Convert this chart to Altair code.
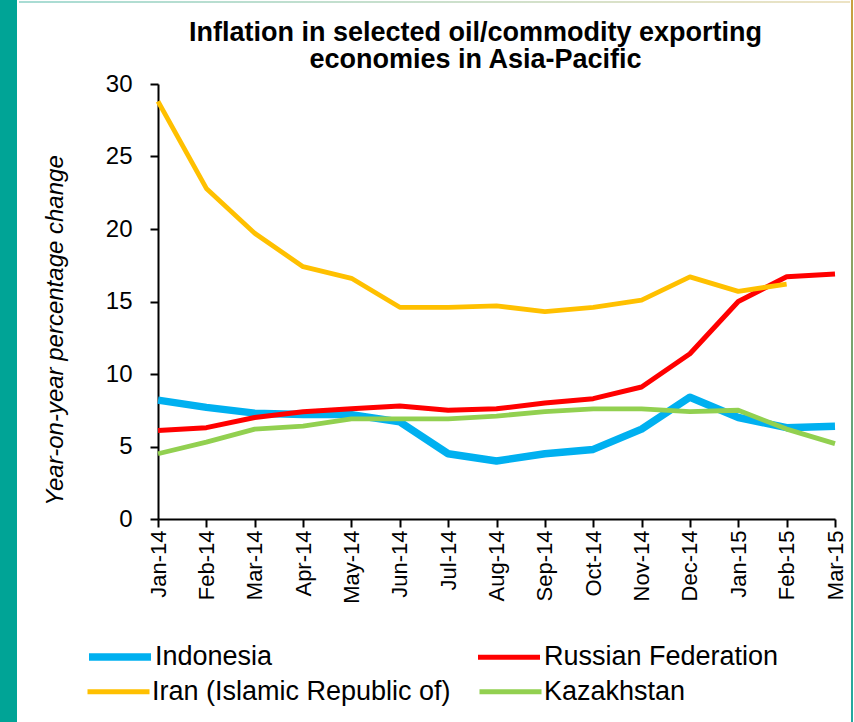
import altair as alt
import pandas as pd

months = ["Jan-14", "Feb-14", "Mar-14", "Apr-14", "May-14", "Jun-14", "Jul-14",
          "Aug-14", "Sep-14", "Oct-14", "Nov-14", "Dec-14", "Jan-15", "Feb-15", "Mar-15"]
indonesia = [8.2, 7.7, 7.3, 7.2, 7.2, 6.7, 4.5, 4.0, 4.5, 4.8, 6.2, 8.4, 7.0, 6.3, 6.4]
russia = [6.1, 6.3, 7.0, 7.4, 7.6, 7.8, 7.5, 7.6, 8.0, 8.3, 9.1, 11.4, 15.0, 16.7, 16.9]
iran = [28.8, 22.8, 19.7, 17.4, 16.6, 14.6, 14.6, 14.7, 14.3, 14.6, 15.1, 16.7, 15.7, 16.2, None]
kazakhstan = [4.5, 5.3, 6.2, 6.4, 6.9, 6.9, 6.9, 7.1, 7.4, 7.6, 7.6, 7.4, 7.5, 6.2, 5.2]

series_names = ["Indonesia", "Russian Federation", "Iran (Islamic Republic of)", "Kazakhstan"]
series_values = [indonesia, russia, iran, kazakhstan]
series_colors = ["#00B0F0", "#FF0000", "#FFC000", "#92D050"]
series_widths = [7.5, 5, 4.8, 4.8]

rows = []
for name, vals in zip(series_names, series_values):
    for m, v in zip(months, vals):
        if v is not None:
            rows.append({"month": m, "value": v, "series": name})
df = pd.DataFrame(rows)

FONT = "Liberation Sans"

x_enc = alt.X("month:N", sort=months, scale=alt.Scale(type="point", padding=0),
              axis=alt.Axis(title=None, labelAngle=270, labelFontSize=22, labelFont=FONT,
                            labelColor="black", labelPadding=3, tickSize=8, tickColor="black",
                            domainColor="black", domainWidth=2, tickWidth=2, labelAlign="right",
                            labelBaseline="middle"))
y_enc = alt.Y("value:Q", scale=alt.Scale(domain=[0, 30], nice=False),
              axis=alt.Axis(values=[0, 5, 10, 15, 20, 25, 30], title="Year-on-year percentage change",
                            titleFont=FONT, titleFontSize=24, titleFontStyle="italic",
                            titleFontWeight="normal", titleColor="black", titleAngle=270,
                            titleX=-103, titleY=246, titleAlign="center", titleBaseline="middle",
                            labelFontSize=24, labelFont=FONT, labelColor="black", labelPadding=18,
                            tickSize=8, tickColor="black", tickWidth=2, domainColor="black",
                            domainWidth=2, grid=False))


def series_layer(idx, legend_y, col_pad):
    names = [series_names[i] for i in idx]
    opts = dict(title=None, orient="none", legendX=-73, legendY=legend_y,
                columns=2, direction="horizontal", symbolType="stroke", symbolSize=3844,
                labelFontSize=27, labelFont=FONT, labelColor="black",
                labelOffset=0, columnPadding=col_pad, rowPadding=0, labelLimit=400)
    return alt.Chart(df).transform_filter(
        alt.FieldOneOfPredicate(field="series", oneOf=names)
    ).mark_line(strokeJoin="round").encode(
        x=x_enc, y=y_enc,
        color=alt.Color("series:N", sort=names,
                        scale=alt.Scale(domain=names, range=[series_colors[i] for i in idx]),
                        legend=alt.Legend(**opts)),
        strokeWidth=alt.StrokeWidth("series:N", sort=names,
                                    scale=alt.Scale(domain=names, range=[series_widths[i] for i in idx]),
                                    legend=alt.Legend(**opts)),
        detail="series:N",
    )


lines_top_row = series_layer([0, 1], 538, 195)
lines_bottom_row = series_layer([2, 3], 574, 18)

one = alt.Data(values=[{"a": 1}])
teal_bar = alt.Chart(one).mark_rect(color="#00A496").encode(
    x=alt.value(-158), x2=alt.value(-141), y=alt.value(-84), y2=alt.value(638))
top_line = alt.Chart(one).mark_rect(
    color=alt.Gradient(gradient="linear", x1=0, x2=1, y1=0, y2=0,
                       stops=[alt.GradientStop(color="#A8DCD4", offset=0),
                              alt.GradientStop(color="#EDE3C4", offset=1)])
).encode(x=alt.value(-139), x2=alt.value(692), y=alt.value(-83), y2=alt.value(-81))
right_line = alt.Chart(one).mark_rect(
    color=alt.Gradient(gradient="linear", x1=0, x2=0, y1=0, y2=1,
                       stops=[alt.GradientStop(color="#C9A040", offset=0),
                              alt.GradientStop(color="#20A8A0", offset=1)])
).encode(x=alt.value(693), x2=alt.value(695), y=alt.value(-84), y2=alt.value(638))

chart = alt.layer(teal_bar, top_line, right_line, lines_top_row, lines_bottom_row).resolve_scale(
    color="independent", strokeWidth="independent"
).properties(
    width=677, height=435,
    autosize=alt.AutoSizeParams(type="none"),
    padding={"left": 158, "top": 84, "right": 19, "bottom": 203},
    background="white",
    title=alt.Title(["Inflation in selected oil/commodity exporting", "economies in Asia-Pacific"],
                    font=FONT, fontSize=27, fontWeight="bold", color="black",
                    anchor="middle", dx=-21, dy=88, offset=14, lineHeight=27),
).configure_view(stroke=None)

chart.save("out.html", embed_options={"renderer": "svg", "actions": False})
